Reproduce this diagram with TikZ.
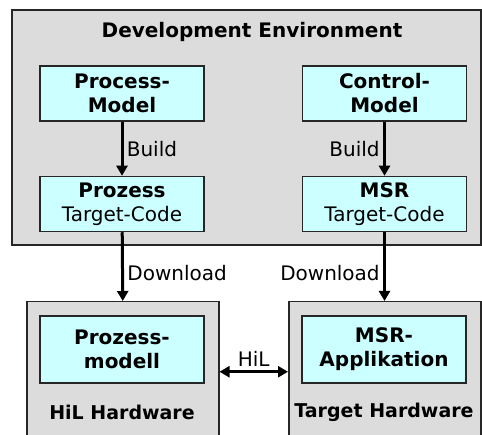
\documentclass[tikz,border=0pt]{standalone}
\usepackage{fontspec}
\setmainfont{DejaVu Sans}
\usetikzlibrary{arrows.meta,positioning}
\definecolor{envgray}{RGB}{220,220,220}
\definecolor{modcyan}{RGB}{204,255,255}
\begin{document}
\begin{tikzpicture}[x=1pt,y=-1pt, font=\fontsize{20}{24}\selectfont,
    envbox/.style={draw=black!85, fill=envgray, line width=1.5pt},
    modbox/.style={draw=black!85, fill=modcyan, line width=1.5pt, align=center,
      inner sep=0pt, minimum width=164pt, minimum height=55pt},
    flow/.style={line width=3pt, -{Triangle[width=11pt,length=10pt]}},
    boldlbl/.style={font=\fontsize{20}{24}\selectfont\bfseries},
    hwlbl/.style={font=\fontsize{19}{22}\selectfont\bfseries}]
    \useasboundingbox (0,0) rectangle (482,435);
    % development environment
    \draw[envbox] (12,10) rectangle (481,245);
    \node[boldlbl] (devenv) at (252,32) {Development Environment};
    \node[modbox] (pmodel) at (122,93.5) {\textbf{Process-}\\\textbf{Model}};
    \node[modbox] (cmodel) at (384.5,93.5) {\textbf{Control-}\\\textbf{Model}};
    \node[modbox] (pcode) at (122,204) {\textbf{Prozess}\\Target-Code};
    \node[modbox] (mcode) at (384.5,204) {\textbf{MSR}\\Target-Code};
    \draw[flow] (pmodel) -- (pcode) node[midway, right] {Build};
    \draw[flow] (cmodel) -- (mcode) node[midway, left] {Build};
    % hardware
    \node[envbox, anchor=north west, minimum width=192pt, minimum height=140pt] (hilhw) at (26,301) {};
    \node[envbox, anchor=north west, minimum width=192pt, minimum height=140pt] (tgthw) at (288,301) {};
    \node[modbox, minimum height=67pt] (pmodell) at (122,349.5) {\textbf{Prozess-}\\\textbf{modell}};
    \node[modbox, minimum height=67pt] (msrapp) at (384,349.5) {\textbf{MSR-}\\\textbf{Applikation}};
    \node[hwlbl] (hillbl) at (122,412) {HiL Hardware};
    \node[hwlbl] (tgtlbl) at (384,412) {Target Hardware};
    \draw[flow] (pcode) -- (hilhw.north) node[pos=0.6, right] {Download};
    \draw[flow] (mcode) -- (mcode |- tgthw.north) node[pos=0.6, left] {Download};
    \draw[flow, {Triangle[width=11pt,length=10pt]}-{Triangle[width=11pt,length=10pt]}] (hilhw.east) -- (tgthw.west) node[midway, above] {HiL};
\end{tikzpicture}
\end{document}
